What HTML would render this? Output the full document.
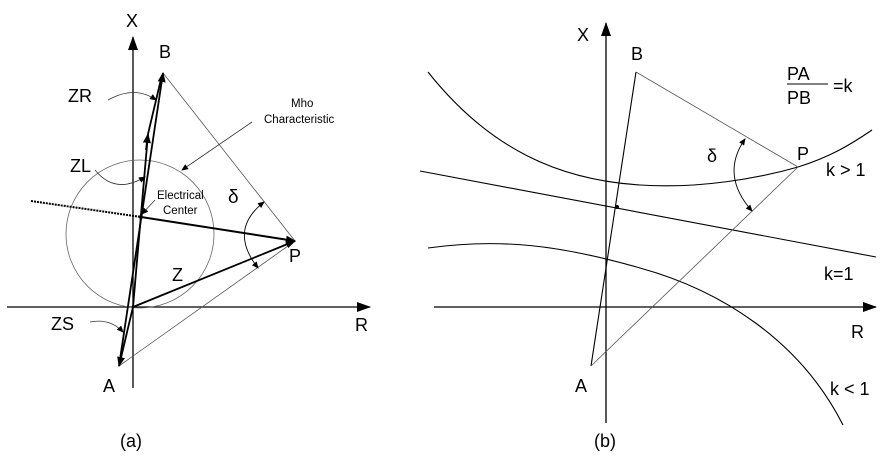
<!DOCTYPE html>
<html><head><style>body{margin:0;background:#fff}svg{display:block}text{font-family:"Liberation Sans",sans-serif;fill:#000}</style></head><body>
<svg width="884" height="456" viewBox="0 0 884 456" xmlns="http://www.w3.org/2000/svg">
<defs>
<marker id="ah" markerWidth="10" markerHeight="8" refX="9" refY="4" orient="auto" markerUnits="userSpaceOnUse"><path d="M0,0L10,4L0,8z" fill="#000"/></marker>
<marker id="sh" markerWidth="7" markerHeight="6" refX="6" refY="3" orient="auto-start-reverse" markerUnits="userSpaceOnUse"><path d="M0,0L7,3L0,6z" fill="#000"/></marker>
<marker id="big" markerWidth="14" markerHeight="10" refX="13" refY="5" orient="auto" markerUnits="userSpaceOnUse"><path d="M0,0L14,5L0,10z" fill="#000"/></marker>
</defs>
<!-- (a) -->
<line x1="133" y1="388" x2="133" y2="37" stroke="#000" stroke-width="1.3" marker-end="url(#big)"/>
<line x1="7" y1="307" x2="370" y2="307" stroke="#000" stroke-width="1.3" marker-end="url(#big)"/>
<circle cx="140" cy="234" r="74" fill="none" stroke="#666" stroke-width="0.8"/>
<line x1="31" y1="201" x2="141" y2="217" stroke="#000" stroke-width="2" stroke-dasharray="2,1"/>
<line x1="141" y1="217" x2="295" y2="241" stroke="#000" stroke-width="2" marker-end="url(#ah)"/>
<line x1="163" y1="73" x2="295" y2="241" stroke="#555" stroke-width="0.8"/>
<line x1="119" y1="366" x2="295" y2="241" stroke="#555" stroke-width="0.8"/>
<line x1="133" y1="307" x2="295" y2="241" stroke="#000" stroke-width="1.8" marker-end="url(#ah)"/>
<line x1="133" y1="307" x2="119" y2="366" stroke="#000" stroke-width="1.8" marker-end="url(#ah)"/>
<line x1="119" y1="366" x2="163" y2="73" stroke="#000" stroke-width="1.8" marker-end="url(#ah)"/>
<polyline points="133,307 148,134 162,75" fill="none" stroke="#000" stroke-width="1.8"/>
<line x1="146" y1="150" x2="148" y2="134" stroke="#000" stroke-width="1.8" marker-end="url(#ah)"/>
<path d="M108,100 Q135,85 156,100" fill="none" stroke="#333" stroke-width="0.8" marker-end="url(#sh)"/>
<path d="M95,170 Q115,195 145,177" fill="none" stroke="#333" stroke-width="0.8" marker-end="url(#sh)"/>
<path d="M90,322 Q110,318 123,332" fill="none" stroke="#333" stroke-width="0.8" marker-end="url(#sh)"/>
<line x1="252" y1="122" x2="182" y2="170" stroke="#333" stroke-width="0.8" marker-end="url(#sh)"/>
<line x1="155" y1="200" x2="142" y2="214" stroke="#333" stroke-width="0.8" marker-end="url(#sh)"/>
<path d="M264,202 Q228,230 258,268" fill="none" stroke="#000" stroke-width="0.9" marker-start="url(#sh)" marker-end="url(#sh)"/>
<circle cx="141" cy="217" r="2" fill="#000"/>
<g font-size="18">
<text x="126" y="27">X</text><text x="355" y="331">R</text>
<text x="159" y="58">B</text><text x="103" y="392">A</text><text x="289" y="262">P</text>
<text x="68" y="102">ZR</text><text x="70" y="172">ZL</text><text x="51" y="330">ZS</text><text x="172" y="281">Z</text>
<text x="228" y="203" font-size="19">δ</text>
<text x="120" y="447">(a)</text>
</g>
<g font-size="11.5" fill="#222">
<text x="157" y="199">Electrical</text><text x="163" y="214">Center</text>
<text x="291" y="107">Mho</text><text x="264" y="123">Characteristic</text>
</g>
<!-- (b) -->
<line x1="606" y1="423" x2="606" y2="23" stroke="#000" stroke-width="1.3" marker-end="url(#big)"/>
<line x1="434" y1="307" x2="876" y2="307" stroke="#000" stroke-width="1.3" marker-end="url(#big)"/>
<path d="M428,72 C490,150 560,180 640,185 C700,189 760,178 798,167 C830,157 850,145 872,130" fill="none" stroke="#000" stroke-width="1.1"/>
<line x1="420" y1="171" x2="876" y2="257" stroke="#000" stroke-width="1.1"/>
<path d="M428,248 C500,238 560,245 640,268 C720,290 800,340 843,425" fill="none" stroke="#000" stroke-width="1.1"/>
<line x1="591" y1="366" x2="636" y2="72" stroke="#000" stroke-width="1.1"/>
<line x1="636" y1="72" x2="798" y2="167" stroke="#555" stroke-width="0.8"/>
<line x1="591" y1="366" x2="798" y2="167" stroke="#555" stroke-width="0.8"/>
<path d="M745,139 Q720,175 752,211" fill="none" stroke="#000" stroke-width="0.9" marker-start="url(#sh)" marker-end="url(#sh)"/>
<circle cx="617" cy="207" r="2" fill="#000"/>
<line x1="787" y1="84" x2="828" y2="84" stroke="#000" stroke-width="1"/>
<g font-size="18">
<text x="577" y="41">X</text><text x="851" y="338">R</text>
<text x="631" y="60">B</text><text x="575" y="392">A</text><text x="797" y="160">P</text>
<text x="707" y="162">δ</text>
<text x="787" y="80">PA</text><text x="787" y="104">PB</text><text x="833" y="92">=k</text>
<text x="826" y="176">k &gt; 1</text><text x="824" y="280">k=1</text><text x="830" y="395">k &lt; 1</text>
<text x="594" y="447">(b)</text>
</g>
</svg>
</body></html>
